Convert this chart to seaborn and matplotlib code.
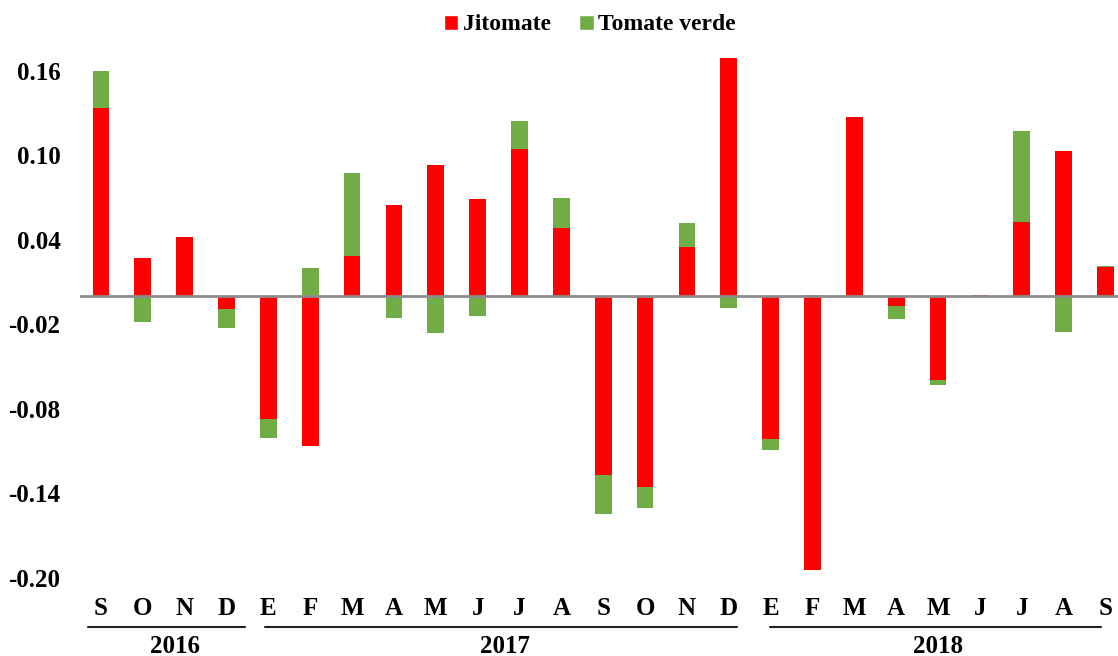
import matplotlib
matplotlib.use("Agg")
import matplotlib.pyplot as plt
import seaborn as sns
import numpy as np
import pandas as pd
from matplotlib.patches import Patch
from matplotlib.lines import Line2D

months = ["S", "O", "N", "D",
          "E", "F", "M", "A", "M", "J", "J", "A", "S", "O", "N", "D",
          "E", "F", "M", "A", "M", "J", "J", "A", "S"]
years = ["2016", "2017", "2018"]
jitomate = [0.1337, 0.0268, 0.0417, -0.0092, -0.0874, -0.1063, 0.0286, 0.0646,
            0.0930, 0.0687, 0.1046, 0.0485, -0.1270, -0.1354, 0.0346, 0.1688,
            -0.1011, -0.1946, 0.1269, -0.0071, -0.0592, 0.0006, 0.0526, 0.1030, 0.0208]
tomate_verde = [0.0260, -0.0182, 0.0, -0.0133, -0.0130, 0.0197, 0.0592, -0.0154,
                -0.0260, -0.0140, 0.0199, 0.0211, -0.0273, -0.0149, 0.0172, -0.0083,
                -0.0083, 0.0010, 0.0005, -0.0092, -0.0035, -0.0004, 0.0646, -0.0253, 0.0005]

RED = "#FF0000"
GREEN = "#70AD47"

sns.set_theme(style="white", rc={"text.color": "black", "xtick.color": "black",
                                 "ytick.color": "black"})
plt.rcParams["font.family"] = ["Liberation Serif", "DejaVu Serif"]
plt.rcParams["font.weight"] = "bold"

red = np.array(jitomate)
grn = np.array(tomate_verde)
# stack green on red when same sign, otherwise from zero
green_bottom = np.where(np.sign(red) == np.sign(grn), red, 0.0)

idx = list(range(len(months)))
df = pd.DataFrame({"i": idx, "jit": red, "tv": grn, "bot": green_bottom})

fig = plt.figure(figsize=(11.18, 6.56), dpi=100)
ax = fig.add_axes([80 / 1118, 1 - 578 / 656, (1118 - 80) / 1118, (578 - 42.6) / 656])

sns.barplot(data=df, x="i", y="jit", color=RED, width=0.4, saturation=1,
            ax=ax, order=idx, zorder=2, linewidth=0)
sns.barplot(data=df, x="i", y="tv", color=GREEN, width=0.4, saturation=1,
            ax=ax, order=idx, bottom=df["bot"].values, zorder=2, linewidth=0)

ax.set_xlim(-0.5, 24.3)
ax.set_ylim(-0.20, 0.18)
ax.axhline(0, color="#8c8c8c", lw=2, zorder=3)

yt = [0.16, 0.10, 0.04, -0.02, -0.08, -0.14, -0.20]
ax.set_yticks(yt)
ax.set_yticklabels([f"{v:.2f}" for v in yt], fontsize=18, fontweight="bold", color="black")
ax.set_xticks(idx)
ax.set_xticklabels(months, fontsize=18, fontweight="bold", color="black")
ax.tick_params(axis="y", length=0, pad=14)
ax.tick_params(axis="x", length=0, pad=14)
ax.set_xlabel("")
ax.set_ylabel("")
for s in ax.spines.values():
    s.set_visible(False)

tr = matplotlib.transforms.blended_transform_factory(ax.transData, ax.transAxes)
line_spans = [(-0.31, 3.44), (3.92, 15.19), (15.98, 23.9)]
year_x = [1.77, 9.65, 20.0]
for (x0, x1), yx, yr in zip(line_spans, year_x, years):
    ax.add_line(Line2D([x0, x1], [-0.0915, -0.0915], transform=tr, color="#222222",
                       lw=1.5, clip_on=False))
    ax.text(yx, -0.128, yr, transform=tr, ha="center", va="center",
            fontsize=18, fontweight="bold", color="black")

handles = [Patch(facecolor=RED, label="Jitomate"),
           Patch(facecolor=GREEN, label="Tomate verde")]
fig.legend(handles=handles, loc="center", bbox_to_anchor=(590 / 1118, 1 - 25 / 656),
           ncol=2, frameon=False, handlelength=0.6, handleheight=0.6,
           handletextpad=0.2, columnspacing=1.2, labelcolor="black",
           prop={"size": 17, "weight": "bold", "family": ["Liberation Serif"]})

fig.savefig("out.png", dpi=100)
